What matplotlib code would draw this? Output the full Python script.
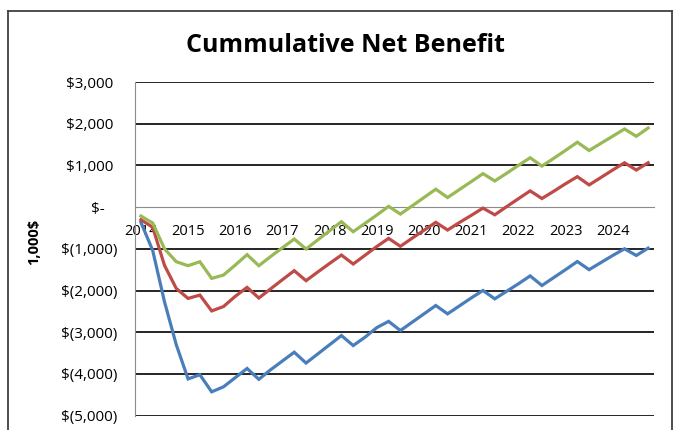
import matplotlib

matplotlib.use("Agg")
import matplotlib.pyplot as plt
from matplotlib.lines import Line2D

plt.rcParams["font.family"] = ["Open Sans", "DejaVu Sans"]

# quarterly cumulative net benefit, in 1,000$
years = ["2014", "2015", "2016", "2017", "2018", "2019", "2020", "2021", "2022", "2023", "2024"]
quarters_per_year = 4

blue_values = [
    -365, -1040, -2270, -3302, -4120, -4020, -4430, -4310, -4090, -3870, -4130,
    -3900, -3690, -3480, -3740, -3520, -3300, -3080, -3320, -3120, -2890, -2740,
    -2960, -2760, -2560, -2360, -2560, -2370, -2180, -2000, -2200, -2020, -1840,
    -1650, -1880, -1690, -1500, -1305, -1500, -1330, -1160, -1000, -1160, -985,
]
red_values = [
    -302, -484, -1397, -1952, -2190, -2110, -2490, -2385, -2140, -1925, -2180,
    -1960, -1740, -1525, -1765, -1555, -1350, -1150, -1365, -1155, -945, -750,
    -940, -745, -555, -365, -550, -370, -200, -24, -185, 10, 200,
    389, 206, 380, 560, 730, 532, 710, 890, 1063, 889, 1063,
]
green_values = [
    -214, -381, -1000, -1310, -1405, -1310, -1710, -1630, -1390, -1140, -1405,
    -1185, -975, -765, -1005, -785, -565, -350, -590, -390, -190, 17,
    -167, 30, 230, 429, 230, 420, 610, 802, 627, 810, 1000,
    1183, 984, 1170, 1360, 1556, 1357, 1530, 1700, 1873, 1698, 1897,
]

y_ticks = [3000, 2000, 1000, 0, -1000, -2000, -3000, -4000, -5000]
y_tick_labels = ["$3,000 ", "$2,000 ", "$1,000 ", "$-   ", "$(1,000)", "$(2,000)", "$(3,000)", "$(4,000)", "$(5,000)"]

fig = plt.figure(figsize=(6.81, 4.30), dpi=100)
ax = fig.add_axes([135 / 681, (430 - 415.6) / 430, 519 / 681, 333.6 / 430])

series = [
    (blue_values, "#4A7EBB"),
    (red_values, "#BE4B48"),
    (green_values, "#98B954"),
]
for values, color in series:
    ax.plot(range(len(values)), values, color=color, linewidth=2.3, zorder=3, solid_joinstyle="miter")

ax.set_xlim(-0.5, len(blue_values) - 0.5)
ax.set_ylim(-5000, 3000)

for value in y_ticks:
    if value != 0:
        ax.axhline(value, color="black", linewidth=1.2, zorder=1)

ax.spines["top"].set_visible(False)
ax.spines["right"].set_visible(False)
ax.spines["bottom"].set_position(("data", 0))
ax.spines["bottom"].set_color("#8C8C8C")
ax.spines["bottom"].set_linewidth(0.8)
ax.spines["left"].set_color("#8C8C8C")
ax.spines["left"].set_linewidth(0.8)

ax.set_yticks(y_ticks, labels=y_tick_labels)
ax.tick_params(axis="y", length=0, pad=13, labelsize=11)
ax.set_xticks(range(0, len(years) * quarters_per_year, quarters_per_year), labels=years)
ax.tick_params(axis="x", length=0, pad=12, labelsize=10.5)

ax.set_ylabel("1,000$", fontsize=10.5, fontweight="bold")
ax.yaxis.set_label_coords(-0.18, 0.52)

fig.text(345 / 681, 1 - 45 / 430, "Cummulative Net Benefit", ha="center", va="center",
         fontsize=18, fontweight="bold")

# chart frame
frame = dict(color="#404040", linewidth=1.3, transform=fig.transFigure)
fig.add_artist(Line2D([8 / 681, 8 / 681], [0, 1 - 11 / 430], **frame))
fig.add_artist(Line2D([8 / 681, 672 / 681], [1 - 11 / 430, 1 - 11 / 430], **frame))
fig.add_artist(Line2D([672 / 681, 672 / 681], [0, 1 - 11 / 430], **frame))

fig.savefig("out.png", dpi=100)
